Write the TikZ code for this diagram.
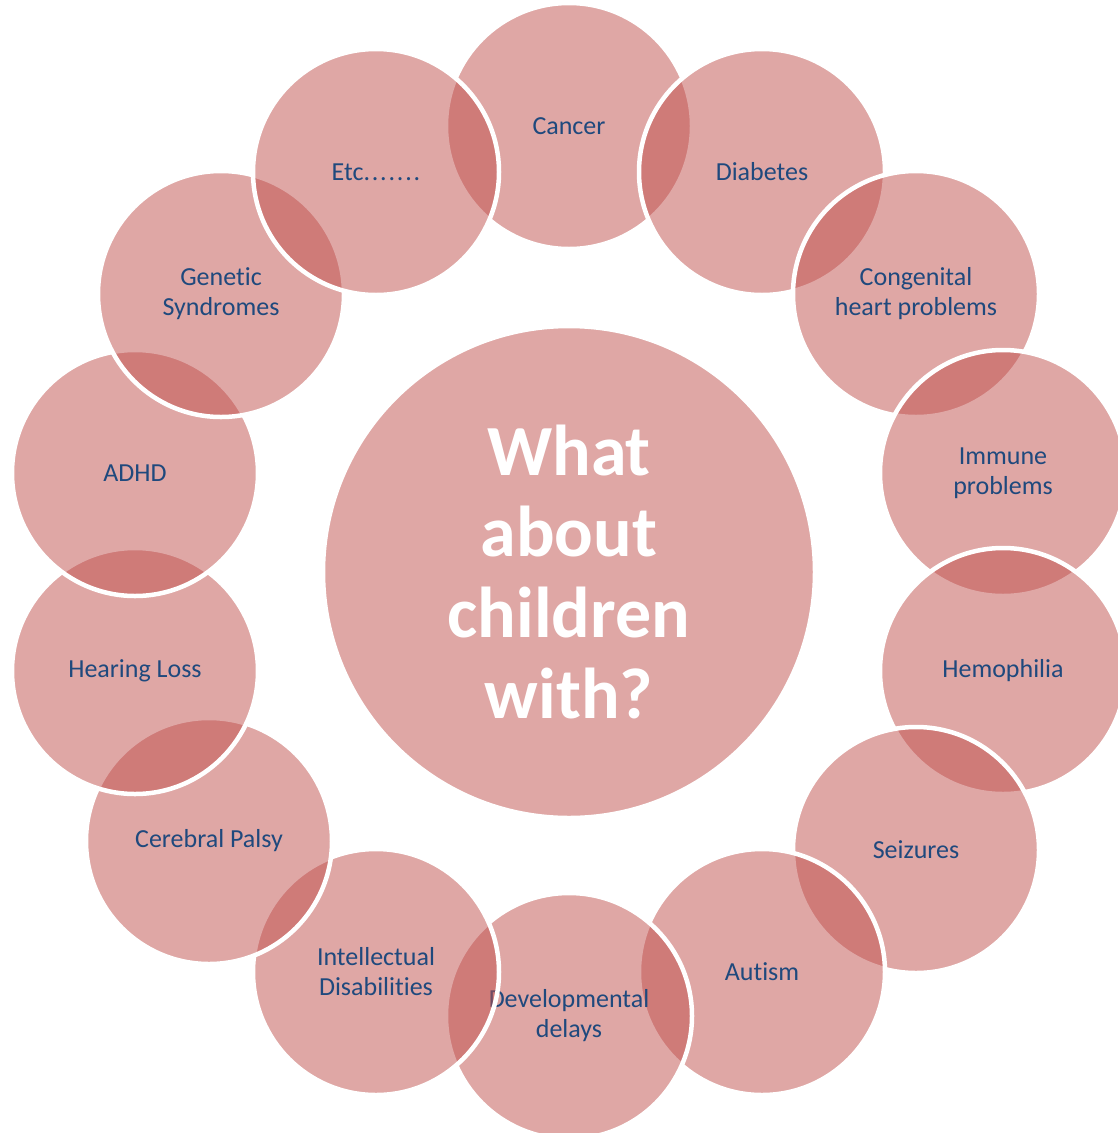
\documentclass[tikz,border=0pt]{standalone}
\usepackage{fontspec}
\setmainfont{Carlito}[Ligatures={NoCommon,NoRare}]
\definecolor{petal}{HTML}{C0504D}
\definecolor{labelblue}{HTML}{1F497D}
\newcommand{\spreaddot}{.\kern1.8pt}
\begin{document}
\begin{tikzpicture}[x=1pt,y=-1pt,
  bubble/.style={circle, minimum size=246pt, inner sep=0pt,
    fill=petal, fill opacity=0.5, draw=white, draw opacity=1,
    line width=4.5pt, text opacity=1, text=labelblue, align=center,
    font=\fontsize{26}{30}\selectfont},
  hub/.style={bubble, minimum size=492pt, text=white,
    font=\fontsize{72}{81}\bfseries\selectfont}]
\fill[white] (0,0) rectangle (1117,1133);
\useasboundingbox (0,0) rectangle (1117,1133);
% central question
\node[hub] (hub) at (569,572) {What\\about\\children\\with?};
% ring of conditions, clockwise from the top; each one overlaps the previous
\node[bubble] (cancer)       at (569,126)  {Cancer};
\node[bubble] (diabetes)     at (762,172)  {Diabetes};
\node[bubble] (congenital)   at (916,294)  {Congenital\\heart problems};
\node[bubble] (immune)       at (1003,473) {Immune\\problems};
\node[bubble] (hemophilia)   at (1003,671) {Hemophilia};
\node[bubble] (seizures)     at (916,850)  {Seizures};
\node[bubble] (autism)       at (762,972)  {Autism};
\node[bubble] (developmental) at (569,1016) {Developmental\\delays};
\node[bubble] (intellectual) at (376,972)  {Intellectual\\Disabilities};
\node[bubble] (cerebral)     at (209,841)  {Cerebral Palsy};
\node[bubble] (hearing)      at (135,671)  {Hearing Loss};
\node[bubble] (adhd)         at (135,473)  {ADHD};
\node[bubble] (genetic)      at (221,294)  {Genetic\\Syndromes};
\node[bubble] (etc)          at (376,172)  {Etc\spreaddot\spreaddot\spreaddot\spreaddot\spreaddot\spreaddot.};
\end{tikzpicture}
\end{document}
